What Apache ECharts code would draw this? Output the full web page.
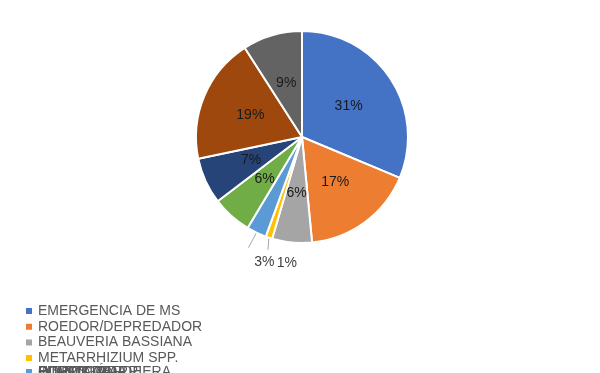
<!DOCTYPE html>
<html><head><meta charset="utf-8">
<script src="https://cdn.jsdelivr.net/npm/echarts@6/dist/echarts.min.js"></script>
<style>html,body{margin:0;padding:0;background:#fff}#c{width:600px;height:373px}</style>
</head><body><div id="c"></div>
<script>
const categories = ["EMERGENCIA DE MS","ROEDOR/DEPREDADOR","BEAUVERIA BASSIANA","METARRHIZIUM SPP.","INSECTICIDA","HORMIGA ARRIERA","PUDRICIÓN","PLANTA TARDE","OTROS DE"];
const values = [31,17,6,1,3,6,7,19,9];
const colors = ["#4472C4","#ED7D31","#A5A5A5","#FFC000","#5B9BD5","#70AD47","#264478","#9E480E","#636363"];
const outsideIdx = [3,4];

const chart = echarts.init(document.getElementById('c'));
const font = "'Liberation Sans', Arial, sans-serif";
const data = categories.map((n,i)=>{
  const o = {name:n, value:values[i], itemStyle:{color:colors[i]}};
  if (outsideIdx.includes(i)) {
    o.label = {position:'outside', color:'#404040'};
    o.labelLine = {show:true};
  }
  return o;
});
const legendBase = {
  icon:'rect', itemWidth:8, itemHeight:8, left:24, orient:'vertical', padding:0,
  itemGap:1, textStyle:{fontFamily:font, fontSize:14, color:'#595959'}, selectedMode:false
};
const legendTops = [304, 319.7, 335.4, 351.1, 365];
const legends = categories.map((n,i)=>Object.assign({}, legendBase, {top:legendTops[Math.min(i,4)], data:[n]}));
// overlapping clipped row: first overflowing item drawn on top
const ordered = legends.slice(0,4).concat(legends.slice(4).reverse());

chart.setOption({
  animation:false,
  legend: ordered,
  series:[{
    type:'pie', center:[302,137], radius:106, startAngle:90, clockwise:true,
    percentPrecision:3,
    data:data,
    itemStyle:{borderColor:'#fff', borderWidth:2},
    label:{show:true, position:'inside', formatter:p=>Math.round(p.percent)+'%', fontFamily:font, fontSize:14, color:'#1A1A1A'},
    labelLine:{show:false, length:14, length2:0, lineStyle:{color:'#A6A6A6', width:1}},
    labelLayout: function(p){
      const pts = p.labelLinePoints;
      if (!pts || outsideIdx.indexOf(p.dataIndex) < 0) return {};
      const a = pts[0];
      if (p.dataIndex===4) {
        const e=[a[0]-8, a[1]+15];
        return {x:a[0]+8, y:a[1]+29, align:'center', verticalAlign:'middle', labelLinePoints:[a,e,e]};
      }
      const e=[a[0]-1, a[1]+12];
      return {x:a[0]+18, y:a[1]+25, align:'center', verticalAlign:'middle', labelLinePoints:[a,e,e]};
    }
  }]
});
</script></body></html>
